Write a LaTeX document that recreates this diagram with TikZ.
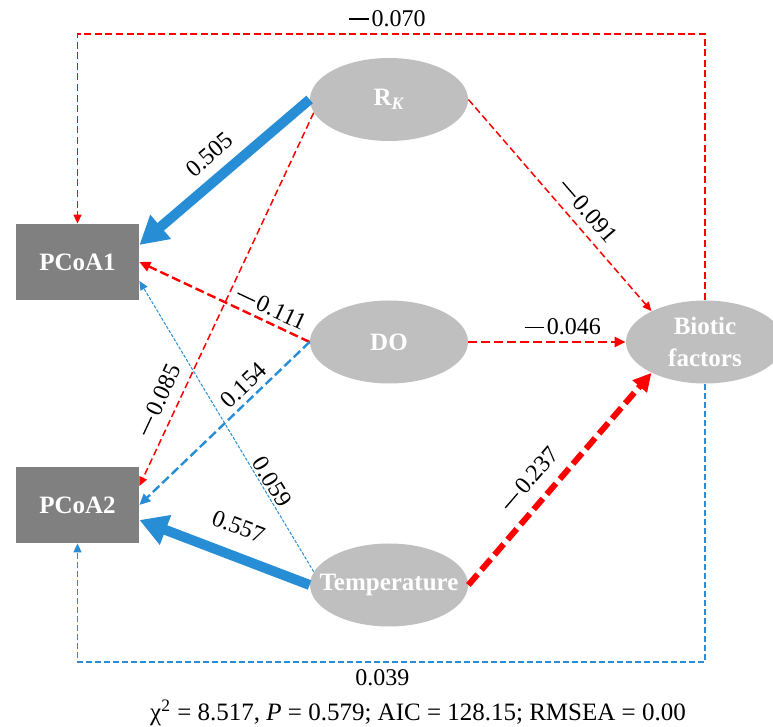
\documentclass[tikz,border=0pt]{standalone}
\usepackage{fontspec}
\setmainfont{Liberation Serif}
\usepackage{tikz}
\usetikzlibrary{shapes,arrows.meta,positioning}
\definecolor{posblue}{RGB}{39,142,214}
\definecolor{negred}{RGB}{255,0,0}
\newcommand{\mn}{\rule[0.27em]{0.8em}{0.055em}\hspace{0.12em}}
\tikzstyle{pc} = [rectangle, fill=black!50, text=white, font=\bfseries\fontsize{12.5}{15}\selectfont, minimum width=61.5pt, minimum height=38pt, node distance=121.5pt]
\tikzstyle{factor} = [ellipse, fill=black!25, inner sep=0pt, minimum width=79pt, minimum height=41.5pt]
\tikzstyle{factor_txt} = [text=white, font=\bfseries\fontsize{12.5}{16}\selectfont, align=center, inner sep=0pt]
\tikzstyle{coef} = [font=\fontsize{12}{14}\selectfont, text=black, inner sep=3pt, sloped, above]
\tikzstyle{coef_flat} = [font=\fontsize{12}{14}\selectfont, text=black, inner sep=3.5pt]
\tikzstyle{pos_thick} = [draw=posblue, line width=5pt, -{Triangle[length=14pt,width=15pt]}]
\tikzstyle{pos_mid} = [draw=posblue, line width=1.2pt, dash pattern=on 4.5pt off 2pt, -{Triangle[length=5.5pt,width=5pt]}]
\tikzstyle{pos_fine} = [draw=posblue, line width=0.5pt, dash pattern=on 1.6pt off 0.8pt, -{Triangle[length=4.5pt,width=4pt]}]
\tikzstyle{pos_loop} = [draw=posblue, line width=0.75pt, dash pattern=on 3pt off 1.5pt, -{Triangle[length=4.5pt,width=4pt]}]
\tikzstyle{neg_thick} = [draw=negred, line width=3pt, dash pattern=on 7pt off 3pt, -{Triangle[length=9pt,width=9pt]}]
\tikzstyle{neg_mid} = [draw=negred, line width=1.2pt, dash pattern=on 4.5pt off 2pt, -{Triangle[length=5.5pt,width=5pt]}]
\tikzstyle{neg_thin} = [draw=negred, line width=0.75pt, dash pattern=on 3.5pt off 1.8pt, -{Triangle[length=4.5pt,width=4pt]}]

\begin{document}
\begin{tikzpicture}
		\useasboundingbox (-38.75pt,-232.5pt) rectangle (347.75pt,131pt);
		
		\node [pc] (pcoa1) {PCoA1};
		\node [pc, below of=pcoa1] (pcoa2) {PCoA2};
		
		\node [factor, right of=pcoa1, node distance=155.75pt, yshift=81.25pt, label={[factor_txt]center:R\textsubscript{\itshape K}}] (rk) {};
		\node [factor, below of=rk, node distance=121.25pt, label={[factor_txt]center:DO}] (dox) {};
		\node [factor, below of=dox, node distance=121.5pt, label={[factor_txt]center:Temperature}] (temp) {};
		\node [factor, right of=dox, node distance=158pt, label={[factor_txt]center:Biotic\\factors}] (biotic) {};
		
		\path [pos_thick] (rk.west) -- ([yshift=8.5pt]pcoa1.east) node [coef, pos=0.5, inner sep=5pt] {0.505};
		\path [neg_thin] (rk.190) -- ([yshift=9.5pt]pcoa2.east) node [coef, pos=0.79, inner sep=5pt] {\mn0.085};
		\path [neg_thin] (rk.east) -- (biotic.150) node [coef, pos=0.58, inner sep=4.5pt] {\mn0.091};
		
		\path [neg_mid] (dox.west) -- (pcoa1.east) node [coef, pos=0.26, inner sep=2.5pt] {\mn0.111};
		\path [pos_mid] (dox.west) -- (pcoa2.east) node [coef, pos=0.33, inner sep=2.5pt] {0.154};
		\path [neg_mid] (dox.east) -- (biotic.west) node [coef, pos=0.6] {\mn0.046};
		
		\path [pos_fine] (temp.170) -- ([yshift=-9.5pt]pcoa1.east) node [coef, pos=0.29, inner sep=1pt] {0.059};
		\path [pos_thick] (temp.west) -- ([yshift=-7.5pt]pcoa2.east) node [coef, pos=0.48, inner sep=8pt] {0.557};
		\path [neg_thick] (temp.east) -- (biotic.210) node [coef, pos=0.43, inner sep=6pt] {\mn0.237};
		
		\path [neg_thin] (biotic.north) -- ++(0,133pt) -| (pcoa1.north) node [coef_flat, pos=0.253, above] {\mn0.070};
		\path [pos_loop] (biotic.south) -- ++(0,-139pt) -| (pcoa2.south) node [coef_flat, pos=0.257, below] {0.039};
		
		\node [below of=temp, node distance=64pt, xshift=14.5pt, font=\fontsize{12.5}{15}\selectfont] (fit) {χ\textsuperscript{2} = 8.517, \textit{P} = 0.579; AIC = 128.15; RMSEA = 0.00};
		\end{tikzpicture}
\end{document}
